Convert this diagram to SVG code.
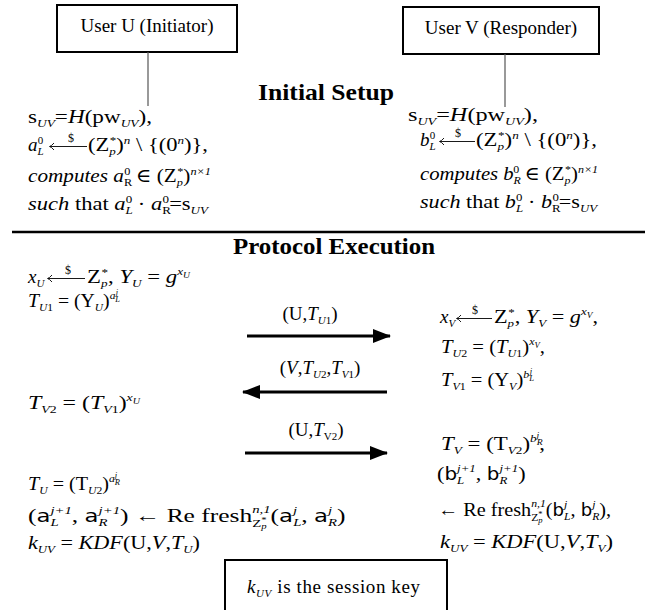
<svg xmlns="http://www.w3.org/2000/svg" width="647" height="610" viewBox="0 0 647 610">
<style>
.t{font-family:"Liberation Serif","DejaVu Serif",serif;fill:#000}
.m{font-size:19px}
.i{font-style:italic}
.s{font-size:11px}
.ss{font-size:8px}
.sf{font-family:"DejaVu Sans","Liberation Sans",sans-serif;font-size:17px}
.hd{font-size:24px;font-weight:bold}
.lbl{font-size:19px}
.box{fill:#fff;stroke:#000;stroke-width:2}
.lead{stroke:#555;stroke-width:1.2}
.msg{stroke:#000;stroke-width:3;fill:none}
.sa{stroke:#000;stroke-width:0.9;fill:none}
.sep{stroke:#000;stroke-width:2.5}
</style>
<defs>
<marker id="ah" viewBox="0 0 18 14" markerWidth="18" markerHeight="14" refX="17" refY="7" orient="auto" markerUnits="userSpaceOnUse">
<path d="M0,0 L18,7 L0,14 z" fill="#000"/>
</marker>
</defs>

<g id="node-U">
<rect class="box" x="57" y="5" width="180" height="47"/>
<text class="t lbl" x="147" y="32" text-anchor="middle">User U (Initiator)</text>
</g>
<g id="node-V">
<rect class="box" x="403" y="7" width="196" height="47"/>
<text class="t lbl" x="501" y="34" text-anchor="middle">User V (Responder)</text>
</g>

<g id="headers">
<text class="t hd" x="326" y="100" text-anchor="middle" textLength="136" lengthAdjust="spacingAndGlyphs">Initial Setup</text>
<line class="sep" x1="12" y1="232" x2="645" y2="232"/>
<text class="t hd" x="334" y="254" text-anchor="middle" textLength="202" lengthAdjust="spacingAndGlyphs">Protocol Execution</text>
</g>

<g id="setup-U">
<text class="t m" x="28" y="123" textLength="124" lengthAdjust="spacingAndGlyphs">s<tspan class="s i" dy="4">UV</tspan><tspan dy="-4">=</tspan><tspan class="i">H</tspan>(pw<tspan class="s i" dy="4">UV</tspan><tspan dy="-4">),</tspan></text>
<text class="t m" x="28" y="151"><tspan class="i">a</tspan><tspan class="s i" dy="4">L</tspan><tspan class="s" dx="-6" dy="-11">0</tspan></text>
<path class="sa" d="M87,146.5 H50 M54,143 Q51.5,146 49.5,146.5 Q51.5,147 54,150"/>
<text class="t" x="71" y="142" style="font-size:12px" text-anchor="middle">$</text>
<text class="t m" x="88" y="151" textLength="120" lengthAdjust="spacingAndGlyphs">(Z<tspan class="s i" dy="4">p</tspan><tspan class="s" dx="-5" dy="-11">*</tspan><tspan dy="7">)</tspan><tspan class="s i" dy="-7">n</tspan><tspan dy="7"> \ {(0</tspan><tspan class="s i" dy="-7">n</tspan><tspan dy="7">)},</tspan></text>
<text class="t m" x="28" y="182" textLength="183" lengthAdjust="spacingAndGlyphs"><tspan class="i">computes</tspan> <tspan class="i">a</tspan><tspan class="s" dy="4">R</tspan><tspan class="s" dx="-7" dy="-11">0</tspan><tspan dy="7"> ∈ (Z</tspan><tspan class="s i" dy="4">p</tspan><tspan class="s" dx="-5" dy="-11">*</tspan><tspan dy="7">)</tspan><tspan class="s i" dy="-7">n×1</tspan></text>
<text class="t m" x="28" y="210" textLength="180" lengthAdjust="spacingAndGlyphs"><tspan class="i">such</tspan> that  <tspan class="i">a</tspan><tspan class="s i" dy="4">L</tspan><tspan class="s" dx="-6" dy="-11">0</tspan><tspan dy="7"> · </tspan><tspan class="i">a</tspan><tspan class="s" dy="4">R</tspan><tspan class="s" dx="-7" dy="-11">0</tspan><tspan dy="7">=s</tspan><tspan class="s i" dy="4">UV</tspan></text>
</g>

<g id="setup-V">
<text class="t m" x="408" y="121" textLength="130" lengthAdjust="spacingAndGlyphs">s<tspan class="s i" dy="4">UV</tspan><tspan dy="-4">=</tspan><tspan class="i">H</tspan>(pw<tspan class="s i" dy="4">UV</tspan><tspan dy="-4">),</tspan></text>
<text class="t m" x="420" y="146"><tspan class="i">b</tspan><tspan class="s i" dy="4">L</tspan><tspan class="s" dx="-6" dy="-11">0</tspan></text>
<path class="sa" d="M475,141.5 H440 M444,138 Q441.5,141 439.5,141.5 Q441.5,142 444,145"/>
<text class="t" x="458" y="137" style="font-size:12px" text-anchor="middle">$</text>
<text class="t m" x="476" y="146" textLength="121" lengthAdjust="spacingAndGlyphs">(Z<tspan class="s i" dy="4">p</tspan><tspan class="s" dx="-5" dy="-11">*</tspan><tspan dy="7">)</tspan><tspan class="s i" dy="-7">n</tspan><tspan dy="7"> \ {(0</tspan><tspan class="s i" dy="-7">n</tspan><tspan dy="7">)},</tspan></text>
<text class="t m" x="420" y="180" textLength="178" lengthAdjust="spacingAndGlyphs"><tspan class="i">computes</tspan> <tspan class="i">b</tspan><tspan class="s i" dy="4">R</tspan><tspan class="s" dx="-7" dy="-11">0</tspan><tspan dy="7"> ∈ (Z</tspan><tspan class="s i" dy="4">p</tspan><tspan class="s" dx="-5" dy="-11">*</tspan><tspan dy="7">)</tspan><tspan class="s i" dy="-7">n×1</tspan></text>
<text class="t m" x="420" y="208" textLength="177" lengthAdjust="spacingAndGlyphs"><tspan class="i">such</tspan> that  <tspan class="i">b</tspan><tspan class="s i" dy="4">L</tspan><tspan class="s" dx="-6" dy="-11">0</tspan><tspan dy="7"> · </tspan><tspan class="i">b</tspan><tspan class="s" dy="4">R</tspan><tspan class="s" dx="-7" dy="-11">0</tspan><tspan dy="7">=s</tspan><tspan class="s i" dy="4">UV</tspan></text>
</g>

<g id="exec-U">
<text class="t m" x="28" y="283"><tspan class="i">x</tspan><tspan class="s i" dy="4">U</tspan></text>
<path class="sa" d="M85,278.5 H48 M52,275 Q49.5,278 47.5,278.5 Q49.5,279 52,282"/>
<text class="t" x="68" y="274" style="font-size:12px" text-anchor="middle">$</text>
<text class="t m" x="87" y="283" textLength="103" lengthAdjust="spacingAndGlyphs">Z<tspan class="s i" dy="4">p</tspan><tspan class="s" dx="-5" dy="-11">*</tspan><tspan dy="7">, </tspan><tspan class="i">Y</tspan><tspan class="s i" dy="4">U</tspan><tspan dy="-4"> = </tspan><tspan class="i">g</tspan><tspan class="s i" dy="-8">x</tspan><tspan class="ss i" dy="3">U</tspan></text>
<text class="t m" x="28" y="307" textLength="92" lengthAdjust="spacingAndGlyphs"><tspan class="i">T</tspan><tspan class="s" dy="4"><tspan class="i">U</tspan>1</tspan><tspan dy="-4"> = (Y</tspan><tspan class="s i" dy="4">U</tspan><tspan dy="-4">)</tspan><tspan class="s i" dy="-8">a</tspan><tspan class="ss i" dy="3">L</tspan><tspan class="ss i" dx="-4" dy="-7">j</tspan></text>
<text class="t m" x="28" y="409" textLength="112" lengthAdjust="spacingAndGlyphs"><tspan class="i">T</tspan><tspan class="s" dy="4"><tspan class="i">V</tspan>2</tspan><tspan dy="-4"> = (</tspan><tspan class="i">T</tspan><tspan class="s" dy="4"><tspan class="i">V</tspan>1</tspan><tspan dy="-4">)</tspan><tspan class="s i" dy="-8">x</tspan><tspan class="ss i" dy="3">U</tspan></text>
<text class="t m" x="28" y="490" textLength="92" lengthAdjust="spacingAndGlyphs"><tspan class="i">T</tspan><tspan class="s i" dy="4">U</tspan><tspan dy="-4"> = (T</tspan><tspan class="s" dy="4"><tspan class="i">U</tspan>2</tspan><tspan dy="-4">)</tspan><tspan class="s i" dy="-8">a</tspan><tspan class="ss i" dy="3">R</tspan><tspan class="ss i" dx="-5" dy="-7">j</tspan></text>
<text class="t m" transform="translate(28,522) scale(1.34,1)">(<tspan class="sf">a</tspan><tspan class="s i" dy="4">L</tspan><tspan class="s i" dx="-6.1" dy="-12">j+1</tspan><tspan dy="8">, </tspan><tspan class="sf">a</tspan><tspan class="s i" dy="4">R</tspan><tspan class="s i" dx="-6.7" dy="-12">j+1</tspan><tspan dy="8">) ← Re fresh</tspan><tspan class="s" dy="5">Z</tspan><tspan class="ss i" dy="2">p</tspan><tspan class="ss" dx="-4" dy="-6">*</tspan><tspan class="s i" dx="-10.7" dy="-10">n,1</tspan><tspan dy="9">(</tspan><tspan class="sf">a</tspan><tspan class="s i" dy="-8">j</tspan><tspan class="s i" dx="-3" dy="12">L</tspan><tspan dy="-4">, </tspan><tspan class="sf">a</tspan><tspan class="s i" dy="-8">j</tspan><tspan class="s i" dx="-3" dy="12">R</tspan><tspan dy="-4">)</tspan></text>
<text class="t m" x="28" y="549" textLength="172" lengthAdjust="spacingAndGlyphs"><tspan class="i">k</tspan><tspan class="s i" dy="4">UV</tspan><tspan dy="-4"> = </tspan><tspan class="i">KDF</tspan>(U,<tspan class="i">V</tspan>,<tspan class="i">T</tspan><tspan class="s i" dy="4">U</tspan><tspan dy="-4">)</tspan></text>
</g>

<g id="exec-V">
<text class="t m" x="440" y="323"><tspan class="i">x</tspan><tspan class="s i" dy="4">V</tspan></text>
<path class="sa" d="M492,318.5 H457 M461,315 Q458.5,318 456.5,318.5 Q458.5,319 461,322"/>
<text class="t" x="475" y="314" style="font-size:12px" text-anchor="middle">$</text>
<text class="t m" x="494" y="323" textLength="104" lengthAdjust="spacingAndGlyphs">Z<tspan class="s i" dy="4">p</tspan><tspan class="s" dx="-5" dy="-11">*</tspan><tspan dy="7">, </tspan><tspan class="i">Y</tspan><tspan class="s i" dy="4">V</tspan><tspan dy="-4"> = </tspan><tspan class="i">g</tspan><tspan class="s i" dy="-8">x</tspan><tspan class="ss i" dy="3">V</tspan><tspan dy="5">,</tspan></text>
<text class="t m" x="441" y="353" textLength="104" lengthAdjust="spacingAndGlyphs"><tspan class="i">T</tspan><tspan class="s" dy="4"><tspan class="i">U</tspan>2</tspan><tspan dy="-4"> = (</tspan><tspan class="i">T</tspan><tspan class="s" dy="4"><tspan class="i">U</tspan>1</tspan><tspan dy="-4">)</tspan><tspan class="s i" dy="-8">x</tspan><tspan class="ss i" dy="3">V</tspan><tspan dy="5">,</tspan></text>
<text class="t m" x="441" y="386" textLength="93" lengthAdjust="spacingAndGlyphs"><tspan class="i">T</tspan><tspan class="s" dy="4"><tspan class="i">V</tspan>1</tspan><tspan dy="-4"> = (Y</tspan><tspan class="s i" dy="4">V</tspan><tspan dy="-4">)</tspan><tspan class="s i" dy="-8">b</tspan><tspan class="ss i" dy="3">L</tspan><tspan class="ss i" dx="-4" dy="-7">j</tspan></text>
<text class="t m" x="441" y="450" textLength="104" lengthAdjust="spacingAndGlyphs"><tspan class="i">T</tspan><tspan class="s i" dy="4">V</tspan><tspan dy="-4"> = (T</tspan><tspan class="s" dy="4"><tspan class="i">V</tspan>2</tspan><tspan dy="-4">)</tspan><tspan class="s i" dy="-8">b</tspan><tspan class="ss i" dy="3">R</tspan><tspan class="ss i" dx="-5" dy="-7">j</tspan><tspan dy="12">,</tspan></text>
<text class="t m" transform="translate(437,480) scale(1.17,1)">(<tspan class="sf">b</tspan><tspan class="s i" dy="4">L</tspan><tspan class="s i" dx="-6.1" dy="-12">j+1</tspan><tspan dy="8">, </tspan><tspan class="sf">b</tspan><tspan class="s i" dy="4">R</tspan><tspan class="s i" dx="-6.7" dy="-12">j+1</tspan><tspan dy="8">)</tspan></text>
<text class="t m" transform="translate(438,516) scale(1.064,1)">← Re fresh<tspan class="s" dy="5">Z</tspan><tspan class="ss i" dy="2">p</tspan><tspan class="ss" dx="-4" dy="-6">*</tspan><tspan class="s i" dx="-10.7" dy="-10">n,1</tspan><tspan dy="9">(</tspan><tspan class="sf">b</tspan><tspan class="s i" dy="-8">j</tspan><tspan class="s i" dx="-3" dy="12">L</tspan><tspan dy="-4">, </tspan><tspan class="sf">b</tspan><tspan class="s i" dy="-8">j</tspan><tspan class="s i" dx="-3" dy="12">R</tspan><tspan dy="-4">),</tspan></text>
<text class="t m" x="440" y="548" textLength="173" lengthAdjust="spacingAndGlyphs"><tspan class="i">k</tspan><tspan class="s i" dy="4">UV</tspan><tspan dy="-4"> = </tspan><tspan class="i">KDF</tspan>(U,<tspan class="i">V</tspan>,<tspan class="i">T</tspan><tspan class="s i" dy="4">V</tspan><tspan dy="-4">)</tspan></text>
</g>

<g id="node-key">
<rect class="box" x="225" y="560" width="222" height="60"/>
<text class="t lbl" x="247" y="593" textLength="173" lengthAdjust="spacing"><tspan class="i">k</tspan><tspan class="s i" dy="4">UV</tspan><tspan dy="-4">  is the session key</tspan></text>
</g>

<g id="connectors">
<line class="lead" x1="148" y1="52" x2="148" y2="106"/>
<line class="lead" x1="505" y1="54" x2="505" y2="107"/>
<line class="msg" x1="247" y1="336" x2="390" y2="336" marker-end="url(#ah)"/>
<line class="msg" x1="387" y1="392" x2="243" y2="392" marker-end="url(#ah)"/>
<line class="msg" x1="245" y1="453" x2="387" y2="453" marker-end="url(#ah)"/>
<text class="t m" x="310" y="320" text-anchor="middle">(U,<tspan class="i">T</tspan><tspan class="s" dy="4"><tspan class="i">U</tspan>1</tspan><tspan dy="-4">)</tspan></text>
<text class="t m" x="320" y="374" text-anchor="middle">(<tspan class="i">V</tspan>,<tspan class="i">T</tspan><tspan class="s" dy="4"><tspan class="i">U</tspan>2</tspan><tspan dy="-4">,</tspan><tspan class="i">T</tspan><tspan class="s" dy="4"><tspan class="i">V</tspan>1</tspan><tspan dy="-4">)</tspan></text>
<text class="t m" x="316" y="436" text-anchor="middle">(U,<tspan class="i">T</tspan><tspan class="s" dy="4">V2</tspan><tspan dy="-4">)</tspan></text>
</g>
</svg>
